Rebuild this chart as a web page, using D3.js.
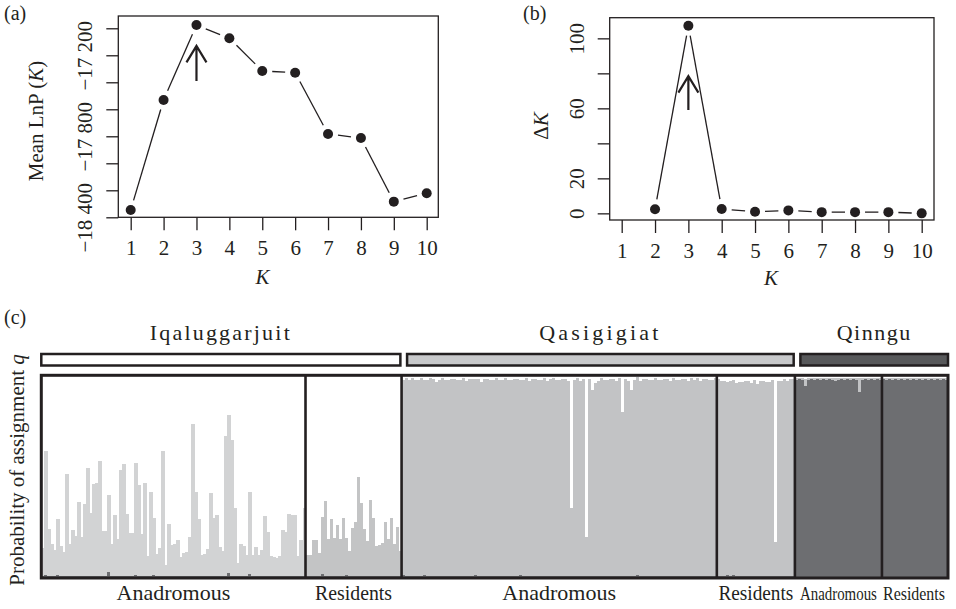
<!DOCTYPE html>
<html>
<head>
<meta charset="utf-8">
<script src="https://cdn.jsdelivr.net/npm/d3@7"></script>
<style>
  body { margin: 0; background: #fff; }
  text { font-family: "Liberation Serif", "Times New Roman", serif; fill: #231f20; }
</style>
</head>
<body>
<svg id="fig" width="956" height="609"></svg>
<script>
// ---- data: panels (a) and (b) ----
const kVals = [1, 2, 3, 4, 5, 6, 7, 8, 9, 10];
const meanLnP = [-18346, -17531, -16976, -17074, -17316, -17329, -17783, -17813, -18284, -18222];
const deltaK = [null, 2.3, 107.2, 2.5, 0.9, 1.7, 0.7, 0.7, 0.7, 0.0];
const lnpTicks = [-18400, -18200, -18000, -17800, -17600, -17400, -17200, -17000];
const lnpLabels = [-18400, -17800, -17200];
const dkTicks = [0, 20, 40, 60, 80, 100];
const dkLabels = [0, 20, 60, 100];

// ---- data: panel (c), q per individual (gray cluster, dark cluster; white = rest) ----
const popNames = ["Iqaluggarjuit", "Qasigigiat", "Qinngu"];
const groupNames = ["Anadromous", "Residents", "Anadromous", "Residents", "Anadromous", "Residents"];
const groupPop = [0, 0, 1, 1, 2, 2];

const iqaAnadGray = [0.14,0.62,0.235,0.16,0.13,0.275,0.15,0.12,0.51,0.16,0.23,0.195,0.37,0.195,0.36,0.54,0.315,0.46,0.465,0.575,0.225,0.225,0.385,0.16,0.305,0.185,0.53,0.56,0.31,0.215,
  0.215,0.56,0.455,0.21,0.465,0.10,0.42,0.285,0.11,0.14,0.625,0.055,0.26,0.155,0.16,0.18,0.095,0.115,0.12,0.195,0.755,0.42,0.285,0.105,0.11,0.135,0.415,0.29,0.305,0.145,0.125,
  0.695,0.79,0.68,0.34,0.065,0.16,0.15,0.105,0.41,0.105,0.145,0.105,0.13,0.30,0.22,0.10,0.095,0.09,0.10,0.23,0.22,0.31,0.305,0.305,0.10,0.18,0.34];
const iqaAnadDark = [0.006,0.008,0.005,0.006,0.004,0.012,0.006,0.005,0.006,0.005,0.006,0.007,0.005,0.006,0.005,0.006,0.005,0.006,0.006,0.005,0.006,0.005,0.025,0.006,0.005,0.007,0.005,0.006,0.005,0.006,
  0.006,0.008,0.005,0.006,0.005,0.006,0.005,0.008,0.005,0.006,0.005,0.007,0.006,0.005,0.006,0.005,0.006,0.005,0.006,0.005,0.006,0.005,0.006,0.007,0.005,0.006,0.005,0.006,0.005,0.006,0.005,
  0.006,0.018,0.005,0.006,0.005,0.006,0.005,0.006,0.014,0.005,0.006,0.005,0.006,0.005,0.006,0.005,0.006,0.005,0.006,0.005,0.006,0.005,0.006,0.005,0.006,0.005,0.006];
const iqaResGray = [0.105,0.105,0.18,0.18,0.115,0.285,0.375,0.185,0.285,0.19,0.255,0.185,0.29,0.185,0.125,0.24,0.27,0.495,0.365,0.235,
  0.175,0.38,0.29,0.15,0.155,0.165,0.27,0.185,0.29,0.16,0.245,0.125];
const iqaResDark = [0.006,0.006,0.005,0.006,0.005,0.014,0.006,0.005,0.006,0.005,0.006,0.005,0.006,0.012,0.005,0.006,0.005,0.006,0.005,0.006,
  0.005,0.006,0.005,0.006,0.005,0.006,0.005,0.006,0.005,0.006,0.005,0.006];
const qasAnadGray = [0.975,0.985,0.98,0.985,0.975,0.98,0.985,0.975,0.98,0.985,
  0.98,0.97,0.975,0.985,0.98,0.975,0.985,0.98,0.975,0.98,
  0.985,0.975,0.98,0.985,0.975,0.98,0.97,0.98,0.985,0.975,
  0.98,0.985,0.975,0.98,0.985,0.98,0.975,0.985,0.98,0.975,
  0.98,0.985,0.975,0.98,0.985,0.975,0.98,0.985,0.975,0.98,
  0.985,0.98,0.975,0.985,0.98,0.975,0.34,0.98,0.985,0.975,
  0.98,0.195,0.98,0.93,0.96,0.975,0.985,0.98,0.975,0.985,
  0.98,0.975,0.985,0.82,0.98,0.975,0.925,0.98,0.985,0.975,
  0.98,0.985,0.975,0.98,0.985,0.98,0.975,0.985,0.98,0.975,
  0.985,0.98,0.975,0.985,0.98,0.975,0.985,0.98,0.985,0.975,
  0.98,0.985,0.975,0.98,0.985];
const qasAnadDark = [0.008,0.006,0.005,0.007,0.006,0.005,0.006,0.008,0.005,0.006,
  0.006,0.005,0.007,0.006,0.005,0.006,0.005,0.006,0.007,0.005,
  0.006,0.005,0.006,0.005,0.012,0.006,0.005,0.006,0.005,0.006,
  0.005,0.006,0.007,0.005,0.006,0.005,0.006,0.005,0.006,0.008,
  0.005,0.006,0.005,0.006,0.005,0.006,0.005,0.006,0.005,0.006,
  0.006,0.005,0.006,0.005,0.006,0.005,0.006,0.005,0.006,0.005,
  0.006,0.005,0.006,0.005,0.006,0.005,0.006,0.005,0.006,0.005,
  0.006,0.005,0.006,0.005,0.006,0.005,0.006,0.005,0.012,0.005,
  0.006,0.005,0.006,0.005,0.006,0.005,0.006,0.005,0.006,0.005,
  0.006,0.005,0.006,0.005,0.006,0.005,0.006,0.005,0.006,0.005,
  0.006,0.005,0.006,0.005,0.006];
const qasResGray = [0.98,0.975,0.97,0.965,0.97,0.975,0.96,0.97,0.965,0.975,0.97,0.965,0.975,0.96,0.97,0.975,0.965,0.97,0.975,0.17,
  0.97,0.975,0.98,0.975,0.98,0.985];
const qasResDark = [0.006,0.005,0.006,0.01,0.006,0.008,0.006,0.005,0.006,0.005,0.006,0.005,0.006,0.005,0.006,0.005,0.006,0.005,0.006,0.005,
  0.006,0.005,0.006,0.005,0.006,0.005];
const qinAnadGray = [0.008,0.004,0.008,0.035,0.006,0.004,0.008,0.004,0.008,0.004,0.008,0.004,0.008,0.012,0.008,0.004,0.008,0.004,0.008,0.004,
  0.008,0.07,0.008,0.004,0.008,0.004,0.008,0.004,0.008];
const qinAnadDark = [0.985,0.99,0.985,0.955,0.985,0.99,0.985,0.99,0.985,0.99,0.985,0.99,0.985,0.98,0.985,0.99,0.985,0.99,0.985,0.99,
  0.985,0.925,0.985,0.99,0.985,0.99,0.985,0.99,0.985];
const qinResGray = [0.005,0.008,0.005,0.008,0.005,0.008,0.005,0.008,0.005,0.008,0.005,0.008,0.005,0.008,0.005,0.008,0.005,0.008,0.005,0.008,
  0.005,0.008];
const qinResDark = [0.99,0.985,0.99,0.985,0.99,0.985,0.99,0.985,0.99,0.985,0.99,0.985,0.99,0.985,0.99,0.985,0.99,0.985,0.99,0.985,
  0.99,0.985];

const grayByGroup = [iqaAnadGray, iqaResGray, qasAnadGray, qasResGray, qinAnadGray, qinResGray];
const darkByGroup = [iqaAnadDark, iqaResDark, qasAnadDark, qasResDark, qinAnadDark, qinResDark];

const ink = "#231f20";
const svg = d3.select("#fig");
svg.append("rect").attr("width", 956).attr("height", 609).attr("fill", "#fff");

// ---- helper for the two K panels ----
function drawKPanel(cfg) {
  let g = svg.append("g");
  let x = d3.scaleLinear().domain([1, 10]).range([cfg.x1, cfg.x10]);
  let y = d3.scaleLinear().domain(cfg.yDomain).range([cfg.bottom, cfg.top]);

  // x axis (ticks only, line is the box)
  let xa = g.append("g").attr("transform", "translate(0," + cfg.bottom + ")")
    .call(d3.axisBottom(x).tickValues(kVals).tickSize(13).tickFormat(d3.format("d")));
  xa.select(".domain").remove();
  xa.selectAll("line").attr("stroke", ink).attr("stroke-width", 1.3);
  xa.selectAll("text").attr("font-size", 21).attr("font-family", "Liberation Serif").attr("fill", ink)
    .attr("dy", 0).attr("y", cfg.xLabY - cfg.bottom);

  // y axis with rotated labels
  let fmt = v => (v < 0 ? "\u2212" : "") + d3.format(",")(Math.abs(v)).replace(",", " ");
  let ya = g.append("g").attr("transform", "translate(" + cfg.left + ",0)")
    .call(d3.axisLeft(y).tickValues(cfg.yTicks).tickSize(12)
      .tickFormat(d => cfg.yLabels.includes(d) ? fmt(d) : ""));
  ya.select(".domain").remove();
  ya.selectAll("line").attr("stroke", ink).attr("stroke-width", 1.3);
  ya.selectAll("text").attr("font-size", 21).attr("font-family", "Liberation Serif").attr("fill", ink)
    .attr("transform", "rotate(-90)").attr("x", 0).attr("y", -cfg.yLabDist).attr("dy", 0)
    .attr("text-anchor", "middle");

  // box
  g.append("rect").attr("x", cfg.left).attr("y", cfg.top)
    .attr("width", cfg.right - cfg.left).attr("height", cfg.bottom - cfg.top)
    .attr("fill", "none").attr("stroke", ink).attr("stroke-width", 1.3);

  // type="b" lines with gaps round the points
  let pts = kVals.map((k, i) => ({ x: x(k), y: cfg.values[i] == null ? null : y(cfg.values[i]) }))
    .filter(p => p.y != null);
  let gap = 10;
  for (let i = 0; i < pts.length - 1; i++) {
    let a = pts[i], b = pts[i + 1];
    let dx = b.x - a.x, dy = b.y - a.y, len = Math.sqrt(dx * dx + dy * dy);
    if (len <= 2 * gap) continue;
    let ux = dx / len, uy = dy / len;
    g.append("line")
      .attr("x1", a.x + ux * gap).attr("y1", a.y + uy * gap)
      .attr("x2", b.x - ux * gap).attr("y2", b.y - uy * gap)
      .attr("stroke", ink).attr("stroke-width", 1.3);
  }
  g.selectAll("circle.pt").data(pts).enter().append("circle")
    .attr("class", "pt").attr("cx", d => d.x).attr("cy", d => d.y).attr("r", 5)
    .attr("fill", ink);

  // arrow at K = 3
  let ax = x(3), ay0 = y(cfg.arrow[0]), ay1 = y(cfg.arrow[1]);
  g.append("path")
    .attr("d", "M" + ax + "," + ay0 + "L" + ax + "," + ay1 +
      "M" + (ax - 10) + "," + (ay1 + 16.5) + "L" + ax + "," + ay1 + "L" + (ax + 10) + "," + (ay1 + 16.5))
    .attr("fill", "none").attr("stroke", ink).attr("stroke-width", 2.2);

  // titles
  g.append("text").attr("x", cfg.kLabX).attr("y", cfg.kLabY).attr("text-anchor", "middle")
    .attr("font-size", 21).attr("font-style", "italic").text("K");
  let yl = g.append("text").attr("transform", "translate(" + cfg.yTitleX + "," + cfg.yTitleY + ") rotate(-90)")
    .attr("text-anchor", "middle").attr("font-size", 21);
  cfg.yTitle.forEach(p => yl.append("tspan").attr("font-style", p[1] ? "italic" : "normal").text(p[0]));
  g.append("text").attr("x", cfg.tagX).attr("y", 20).attr("font-size", 20).text(cfg.tag);
}

drawKPanel({
  tag: "(a)", tagX: 4,
  left: 118.3, right: 438.3, top: 16, bottom: 217.3, x1: 130.7, x10: 426.7,
  yDomain: [-18400, -16909], yTicks: lnpTicks, yLabels: lnpLabels, yLabDist: 26.6,
  values: meanLnP, arrow: [-17390, -17130], xLabY: 255,
  kLabX: 262.5, kLabY: 284, yTitleX: 43, yTitleY: 121,
  yTitle: [["Mean LnP (", false], ["K", true], [")", false]]
});
drawKPanel({
  tag: "(b)", tagX: 523,
  left: 609.7, right: 934, top: 17.7, bottom: 220, x1: 621.7, x10: 921.7,
  yDomain: [-3.8, 111.8], yTicks: dkTicks, yLabels: dkLabels, yLabDist: 26.2,
  values: deltaK, arrow: [59, 78.4], xLabY: 258,
  kLabX: 771, kLabY: 285, yTitleX: 548, yTitleY: 126,
  yTitle: [["\u0394", false], ["K", true]]
});

// ---- panel (c): assignment bar plot ----
const groupSizes = grayByGroup.map(a => a.length);
const inds = [];
grayByGroup.forEach((arr, gi) => arr.forEach((q, j) => inds.push({ g: gi, gray: q, dark: darkByGroup[gi][j] })));
const N = inds.length;
const boxL = 41.3, boxR = 948, boxT = 375.3, boxB = 578;
const xb = d3.scaleBand().domain(d3.range(N)).range([boxL, boxR]).paddingInner(0).paddingOuter(0);
const yq = d3.scaleLinear().domain([0, 1]).range([577, 376.5]);
const darkCol = "#6d6e71";
// middle-cluster shade as printed in each group
const grayCol = ["#d2d3d4", "#c3c4c5", "#c2c3c5", "#c2c3c5", "#c2c3c5", "#c2c3c5"];

const bars = svg.append("g").attr("shape-rendering", "crispEdges");
inds.forEach((d, i) => {
  let x0 = xb(i), w = xb.bandwidth() + 0.4;
  bars.append("rect").attr("x", x0).attr("width", w)
    .attr("y", yq(d.dark)).attr("height", yq(0) - yq(d.dark)).attr("fill", darkCol);
  bars.append("rect").attr("x", x0).attr("width", w)
    .attr("y", yq(d.dark + d.gray)).attr("height", yq(d.dark) - yq(d.dark + d.gray)).attr("fill", grayCol[d.g]);
});

// group boundaries
const groupEdges = [0];
groupSizes.forEach(n => groupEdges.push(groupEdges[groupEdges.length - 1] + n));
const edgeX = i => i >= N ? boxR : xb(i);
groupEdges.slice(1, -1).forEach(e => {
  svg.append("line").attr("x1", edgeX(e)).attr("x2", edgeX(e)).attr("y1", boxT).attr("y2", boxB)
    .attr("stroke", ink).attr("stroke-width", 2.6);
});
svg.append("rect").attr("x", boxL).attr("y", boxT).attr("width", boxR - boxL).attr("height", boxB - boxT)
  .attr("fill", "none").attr("stroke", ink).attr("stroke-width", 3);

// group labels below (narrow groups get horizontally squeezed text)
const labelLen = [null, 77, null, 75, 77, 62];
groupNames.forEach((name, gi) => {
  let cx = (edgeX(groupEdges[gi]) + edgeX(groupEdges[gi + 1])) / 2;
  if (gi === 5) cx -= 1;
  let t = svg.append("text").attr("text-anchor", "middle")
    .attr("font-size", groupPop[gi] === 2 ? 19 : 22).text(name);
  let sx = 1;
  if (labelLen[gi]) sx = labelLen[gi] / t.node().getComputedTextLength();
  t.attr("transform", "translate(" + cx + ",600) scale(" + sx + ",1)");
});

// population boxes and names
const popFill = ["#ffffff", "#c8c9cb", "#58595b"];
const popSpacing = [2.2, 3.2, 1.5];
popNames.forEach((name, pi) => {
  let gs = groupPop.map((p, gi) => p === pi ? gi : -1).filter(v => v >= 0);
  let x0 = edgeX(groupEdges[gs[0]]) + (pi > 0 ? 5.5 : 0);
  let x1 = edgeX(groupEdges[gs[gs.length - 1] + 1]) - (pi < popNames.length - 1 ? 1.2 : 0);
  svg.append("rect").attr("x", x0).attr("y", 354).attr("width", x1 - x0).attr("height", 11.5)
    .attr("fill", popFill[pi]).attr("stroke", ink).attr("stroke-width", 2.5);
  svg.append("text").attr("x", (x0 + x1) / 2).attr("y", 340).attr("text-anchor", "middle")
    .attr("font-size", 22).attr("letter-spacing", popSpacing[pi]).text(name);
});

// y title and tag
const yt = svg.append("text").attr("transform", "translate(24,470) rotate(-90)")
  .attr("text-anchor", "middle").attr("font-size", 21);
yt.append("tspan").text("Probability of assignment ");
yt.append("tspan").attr("font-style", "italic").text("q");
svg.append("text").attr("x", 4).attr("y", 324).attr("font-size", 20).text("(c)");
</script>
</body>
</html>
